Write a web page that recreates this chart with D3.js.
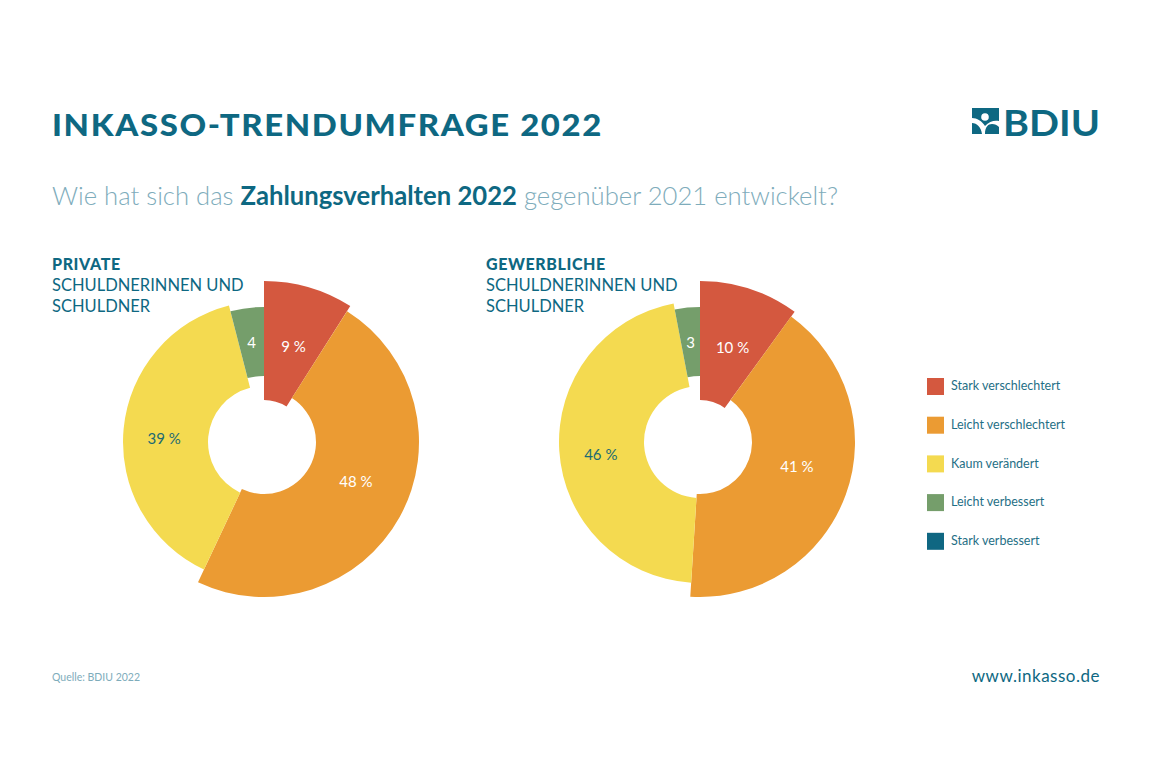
<!DOCTYPE html>
<html>
<head>
<meta charset="utf-8">
<script src="https://cdn.jsdelivr.net/npm/d3@7"></script>
<style>
  html, body { margin: 0; padding: 0; background: #ffffff; }
  svg { display: block; }
  text { font-family: Lato, "Open Sans", sans-serif; }
</style>
</head>
<body>
<svg id="chart" width="1152" height="768"></svg>
<script>
// ---- Data ----
const categories = ["Stark verschlechtert", "Leicht verschlechtert", "Kaum verändert", "Leicht verbessert", "Stark verbessert"];
const privateValues = [9, 48, 39, 4, 0];
const gewerblicheValues = [10, 41, 46, 3, 0];
const chartTitles = [["PRIVATE", "SCHULDNERINNEN UND", "SCHULDNER"], ["GEWERBLICHE", "SCHULDNERINNEN UND", "SCHULDNER"]];

// ---- Styles ----
const colors = ["#d4583f", "#eb9b33", "#f4da50", "#759e6b", "#0f6782"];
const labelColors = ["#ffffff", "#ffffff", "#1d6a72", "#ffffff", "#ffffff"];
const innerRadii = [42, 52, 56, 66, 66];
const outerRadii = [161, 155, 141, 135, 135];
const labelAngleShift = [1, -5.5, -3.5, 0, 0]; // degrees
const teal = "#0e6882";
const lightTeal = "#7eacbb";

const svg = d3.select("#chart");

// Title
svg.append("text")
  .attr("x", 52).attr("y", 136)
  .attr("font-size", 30).attr("font-weight", 900)
  .attr("fill", teal)
  .attr("letter-spacing", 1.5)
  .attr("textLength", 551).attr("lengthAdjust", "spacingAndGlyphs")
  .text("INKASSO-TRENDUMFRAGE 2022");

// Logo
const logo = svg.append("g").attr("transform", "translate(972,108)");
logo.append("rect").attr("x", 0).attr("y", 0).attr("width", 27).attr("height", 26).attr("fill", teal);
logo.append("circle").attr("cx", 13).attr("cy", 9).attr("r", 3.8).attr("fill", "#fff");
logo.append("path")
  .attr("d", "M0,10 L0,15 C5,15 9,19 10,26 L13,26 C13,19 16,16 20,16 C23,16 25,17 27,19 L27,13 C23,12 17,13 13,18 C10,13 5,10 0,10 Z")
  .attr("fill", "#fff");
svg.append("text")
  .attr("x", 1003).attr("y", 136)
  .attr("font-size", 37).attr("font-weight", 700)
  .attr("fill", teal)
  .attr("textLength", 97).attr("lengthAdjust", "spacingAndGlyphs")
  .text("BDIU");

// Subtitle
const sub = svg.append("text")
  .attr("x", 52).attr("y", 205)
  .attr("font-size", 26)
  .attr("textLength", 786).attr("lengthAdjust", "spacingAndGlyphs");
sub.append("tspan").attr("fill", lightTeal).attr("font-weight", 300).text("Wie hat sich das ");
sub.append("tspan").attr("fill", teal).attr("font-weight", 700).text("Zahlungsverhalten 2022");
sub.append("tspan").attr("fill", lightTeal).attr("font-weight", 300).text(" gegenüber 2021 entwickelt?");

// Donuts
const pie = d3.pie().sort(null).value(d => d).startAngle(0).endAngle(2 * Math.PI);
const arc = d3.arc()
  .innerRadius(d => innerRadii[d.index])
  .outerRadius(d => outerRadii[d.index]);

const charts = [
  { values: privateValues, cx: 264, cy: 442, tx: 52 },
  { values: gewerblicheValues, cx: 700, cy: 442, tx: 486 }
];

charts.forEach((c, ci) => {
  // Heading
  const lines = chartTitles[ci];
  lines.forEach((l, i) => {
    svg.append("text")
      .attr("x", c.tx).attr("y", 270 + i * 21)
      .attr("font-size", i === 0 ? 16 : 16.5)
      .attr("font-weight", i === 0 ? 900 : 400)
      .attr("fill", teal)
      .attr("letter-spacing", i === 0 ? 0.6 : 0)
      .text(l);
  });

  const g = svg.append("g").attr("transform", `translate(${c.cx},${c.cy})`);
  const arcs = pie(c.values).filter(d => d.value > 0);
  g.selectAll("path.slice")
    .data(arcs)
    .join("path")
    .attr("class", "slice")
    .attr("d", arc)
    .attr("fill", d => colors[d.index]);

  const mid = d => (d.startAngle + d.endAngle) / 2 + labelAngleShift[d.index] * Math.PI / 180;
  g.selectAll("text.lbl")
    .data(arcs)
    .join("text")
    .attr("class", "lbl")
    .attr("x", d => Math.sin(mid(d)) * 100)
    .attr("y", d => -Math.cos(mid(d)) * 100)
    .attr("dy", "0.35em")
    .attr("text-anchor", "middle")
    .attr("font-size", 15)
    .attr("fill", d => labelColors[d.index])
    .text(d => d.value < 5 ? String(d.value) : d.value + " %");
});

// Legend
const legend = svg.append("g").attr("transform", "translate(927,386)");
const rows = legend.selectAll("g").data(categories).join("g")
  .attr("transform", (d, i) => `translate(0,${i * 38.7})`);
rows.append("rect").attr("x", 0).attr("y", -8).attr("width", 17).attr("height", 17)
  .attr("fill", (d, i) => colors[i]);
rows.append("text").attr("x", 24).attr("y", 0).attr("dy", "0.35em")
  .attr("font-size", 12.5).attr("fill", "#1f6f86")
  .text(d => d);

// Footer
svg.append("text").attr("x", 52).attr("y", 681)
  .attr("font-size", 10.5).attr("fill", lightTeal)
  .text("Quelle: BDIU 2022");
svg.append("text").attr("x", 1100).attr("y", 682)
  .attr("text-anchor", "end")
  .attr("font-size", 17).attr("fill", teal)
  .attr("letter-spacing", 0.5)
  .text("www.inkasso.de");
</script>
</body>
</html>
